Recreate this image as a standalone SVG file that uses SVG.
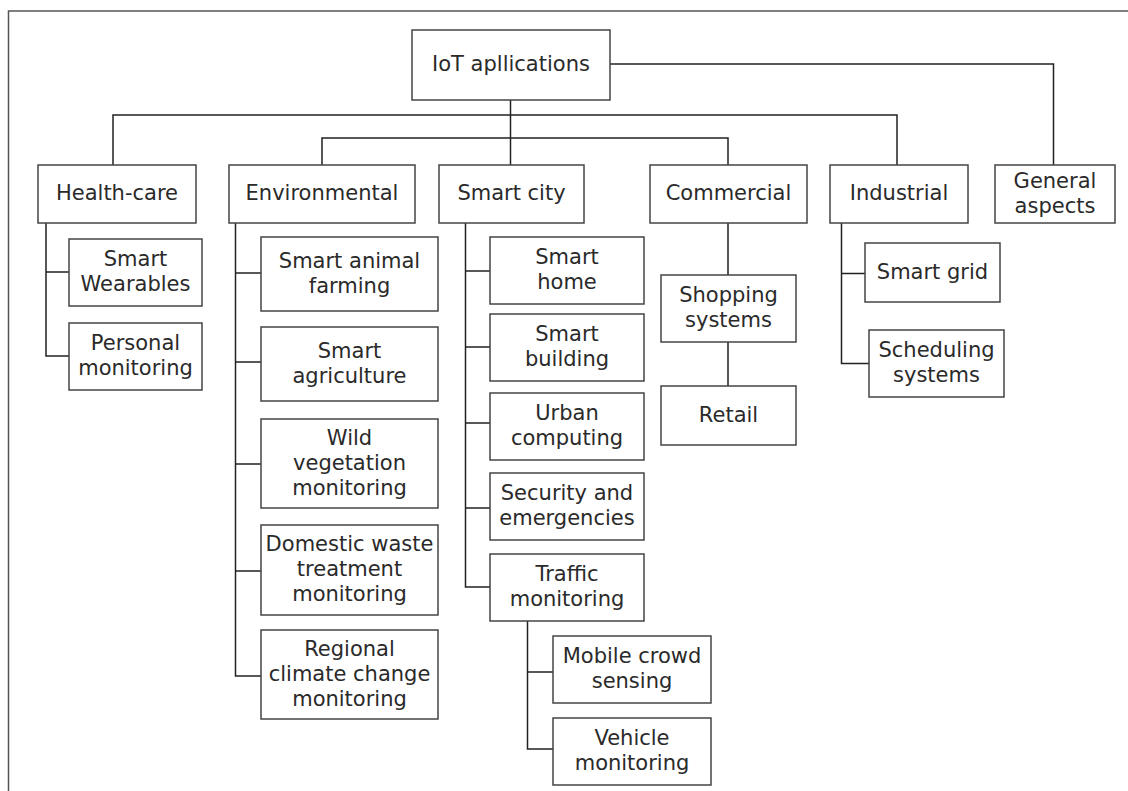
<svg xmlns="http://www.w3.org/2000/svg" width="1128" height="791" viewBox="0 0 1128 791">
  <style>
    .box rect { fill: #ffffff; stroke: #444444; stroke-width: 1.5; }
    .box text { font-family: "DejaVu Sans", Verdana, sans-serif; font-size: 21px; fill: #2a2a2a; text-anchor: middle; }
    #connectors path { fill: none; stroke: #222222; stroke-width: 1.5; }
    #frame { fill: none; stroke: #555555; stroke-width: 1.5; }
  </style>
  <rect width="1128" height="791" fill="#ffffff"/>
  <!-- outer frame (continues past the right and bottom edges) -->
  <path id="frame" d="M1128,11 H8.5 V791"/>

  <g id="connectors">
    <path d="M510.5,100 V165"/>
    <path d="M113,165 V115 H897 V165"/>
    <path d="M322,165 V138 H728 V165"/>
    <path d="M610,64 H1053.5 V165"/>
    <!-- Health-care -->
    <path d="M46,223 V356 H69 M46,272 H69"/>
    <!-- Environmental -->
    <path d="M235.5,223 V676 H261 M235.5,273 H261 M235.5,362 H261 M235.5,464 H261 M235.5,571 H261"/>
    <!-- Smart city -->
    <path d="M465.5,223 V587 H490 M465.5,271 H490 M465.5,347 H490 M465.5,423 H490 M465.5,508 H490"/>
    <!-- Traffic monitoring -->
    <path d="M527.5,621 V749 H553 M527.5,672 H553"/>
    <!-- Commercial -->
    <path d="M728,223 V275 M728,342 V386"/>
    <!-- Industrial -->
    <path d="M841.5,223 V363.5 H869 M841.5,273.5 H865"/>
  </g>

  <g id="root" class="box"><rect x="412" y="30" width="198" height="70"/><text x="511" y="71">IoT apllications</text></g>

  <g id="health" class="box"><rect x="38" y="165" width="158" height="58"/><text x="117" y="200">Health-care</text></g>
  <g id="environmental" class="box"><rect x="229" y="165" width="186" height="58"/><text x="322" y="200">Environmental</text></g>
  <g id="smartcity" class="box"><rect x="439" y="165" width="145" height="58"/><text x="511.5" y="200">Smart city</text></g>
  <g id="commercial" class="box"><rect x="650" y="165" width="157" height="58"/><text x="728.5" y="200">Commercial</text></g>
  <g id="industrial" class="box"><rect x="830" y="165" width="138" height="58"/><text x="899" y="200">Industrial</text></g>
  <g id="general" class="box"><rect x="995" y="165" width="120" height="58"/><text x="1055" y="188"><tspan x="1055">General</tspan><tspan x="1055" dy="24.5">aspects</tspan></text></g>

  <g id="wearables" class="box"><rect x="69" y="239" width="133" height="67"/><text x="135.5" y="266"><tspan x="135.5">Smart</tspan><tspan x="135.5" dy="25">Wearables</tspan></text></g>
  <g id="personal" class="box"><rect x="69" y="323" width="133" height="67"/><text x="135.5" y="350"><tspan x="135.5">Personal</tspan><tspan x="135.5" dy="25">monitoring</tspan></text></g>

  <g id="animal" class="box"><rect x="261" y="237" width="177" height="74"/><text x="349.5" y="267.5"><tspan x="349.5">Smart animal</tspan><tspan x="349.5" dy="25">farming</tspan></text></g>
  <g id="agriculture" class="box"><rect x="261" y="327" width="177" height="74"/><text x="349.5" y="357.5"><tspan x="349.5">Smart</tspan><tspan x="349.5" dy="25">agriculture</tspan></text></g>
  <g id="vegetation" class="box"><rect x="261" y="419" width="177" height="89"/><text x="349.5" y="444.5"><tspan x="349.5">Wild</tspan><tspan x="349.5" dy="25">vegetation</tspan><tspan x="349.5" dy="25">monitoring</tspan></text></g>
  <g id="waste" class="box"><rect x="261" y="525" width="177" height="90"/><text x="349.5" y="551"><tspan x="349.5">Domestic waste</tspan><tspan x="349.5" dy="25">treatment</tspan><tspan x="349.5" dy="25">monitoring</tspan></text></g>
  <g id="climate" class="box"><rect x="261" y="630" width="177" height="89"/><text x="349.5" y="655.5"><tspan x="349.5">Regional</tspan><tspan x="349.5" dy="25">climate change</tspan><tspan x="349.5" dy="25">monitoring</tspan></text></g>

  <g id="home" class="box"><rect x="490" y="237" width="154" height="67"/><text x="567" y="264"><tspan x="567">Smart</tspan><tspan x="567" dy="25">home</tspan></text></g>
  <g id="building" class="box"><rect x="490" y="314" width="154" height="67"/><text x="567" y="341"><tspan x="567">Smart</tspan><tspan x="567" dy="25">building</tspan></text></g>
  <g id="urban" class="box"><rect x="490" y="393" width="154" height="67"/><text x="567" y="420"><tspan x="567">Urban</tspan><tspan x="567" dy="25">computing</tspan></text></g>
  <g id="security" class="box"><rect x="490" y="473" width="154" height="67"/><text x="567" y="500"><tspan x="567">Security and</tspan><tspan x="567" dy="25">emergencies</tspan></text></g>
  <g id="traffic" class="box"><rect x="490" y="554" width="154" height="67"/><text x="567" y="581"><tspan x="567">Traffic</tspan><tspan x="567" dy="25">monitoring</tspan></text></g>
  <g id="crowd" class="box"><rect x="553" y="636" width="158" height="67"/><text x="632" y="663"><tspan x="632">Mobile crowd</tspan><tspan x="632" dy="25">sensing</tspan></text></g>
  <g id="vehicle" class="box"><rect x="553" y="718" width="158" height="67"/><text x="632" y="745"><tspan x="632">Vehicle</tspan><tspan x="632" dy="25">monitoring</tspan></text></g>

  <g id="shopping" class="box"><rect x="661" y="275" width="135" height="67"/><text x="728.5" y="302"><tspan x="728.5">Shopping</tspan><tspan x="728.5" dy="25">systems</tspan></text></g>
  <g id="retail" class="box"><rect x="661" y="386" width="135" height="59"/><text x="728.5" y="421.5">Retail</text></g>

  <g id="grid" class="box"><rect x="865" y="243" width="135" height="59"/><text x="932.5" y="278.5">Smart grid</text></g>
  <g id="scheduling" class="box"><rect x="869" y="330" width="135" height="67"/><text x="936.5" y="357"><tspan x="936.5">Scheduling</tspan><tspan x="936.5" dy="25">systems</tspan></text></g>
</svg>
